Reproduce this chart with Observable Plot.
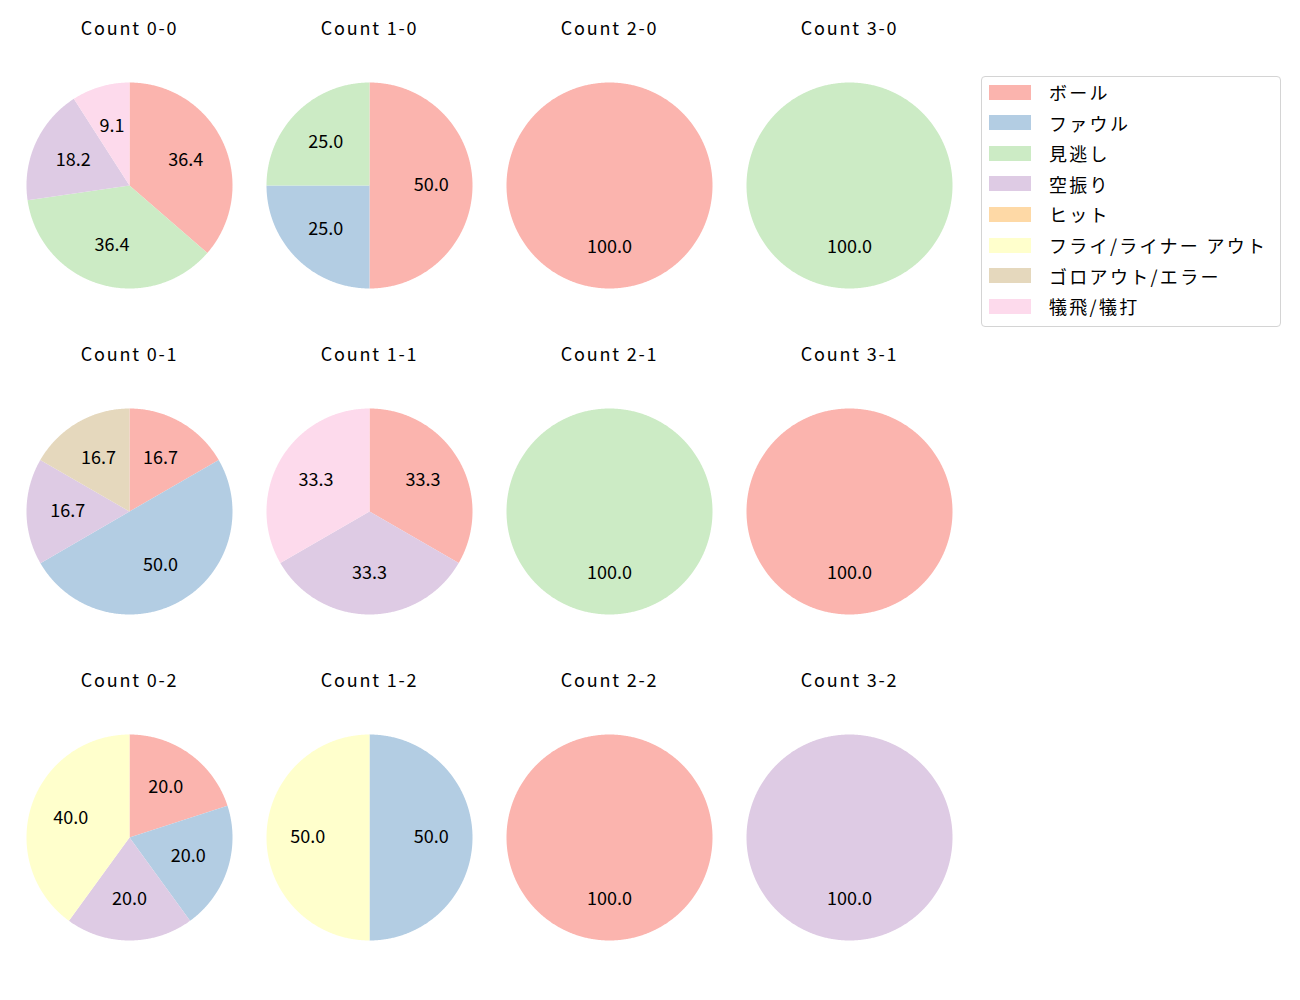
<!DOCTYPE html>
<html><head><meta charset="utf-8">
<script src="https://cdn.jsdelivr.net/npm/d3@7"></script>
<script src="https://cdn.jsdelivr.net/npm/@observablehq/plot@0.6"></script>
<style>
body{margin:0;background:#fff;font-family:"Noto Sans CJK JP","Noto Sans",sans-serif;}
#wrap{position:relative;width:1300px;height:1000px;overflow:hidden}
#legend{position:absolute;left:981px;top:76px;width:300px;height:251px;border:1px solid #d4d4d4;border-radius:4px;background:rgba(255,255,255,0.8);box-sizing:border-box}
.lrow{position:absolute;left:0;height:30px;line-height:30px;font-size:18px;letter-spacing:2.3px;color:#000;white-space:nowrap}
.lsw{position:absolute;left:7px;top:7.5px;width:42px;height:15px}
.ltx{position:absolute;left:67px;top:0}
</style></head>
<body><div id="wrap"><div id="chart"></div><div id="legend"></div></div>
<script>
// categories, colours (Pastel1) and per-count shares (%) in category order
const categories = ["ボール","ファウル","見逃し","空振り","ヒット","フライ/ライナー アウト","ゴロアウト/エラー","犠飛/犠打"];
const colors = ["#fbb4ae","#b3cde3","#ccebc5","#decbe4","#fed9a6","#ffffcc","#e5d8bd","#fddaec"];
const counts = ["0-0","1-0","2-0","3-0","0-1","1-1","2-1","3-1","0-2","1-2","2-2","3-2"];
const share00 = [36.4, 0, 36.4, 18.2, 0, 0, 0, 9.1];
const share10 = [50.0, 25.0, 25.0, 0, 0, 0, 0, 0];
const share20 = [100.0, 0, 0, 0, 0, 0, 0, 0];
const share30 = [0, 0, 100.0, 0, 0, 0, 0, 0];
const share01 = [16.7, 50.0, 0, 16.7, 0, 0, 16.7, 0];
const share11 = [33.3, 0, 0, 33.3, 0, 0, 0, 33.3];
const share21 = [0, 0, 100.0, 0, 0, 0, 0, 0];
const share31 = [100.0, 0, 0, 0, 0, 0, 0, 0];
const share02 = [20.0, 20.0, 0, 20.0, 0, 40.0, 0, 0];
const share12 = [0, 50.0, 0, 0, 0, 50.0, 0, 0];
const share22 = [100.0, 0, 0, 0, 0, 0, 0, 0];
const share32 = [0, 0, 0, 100.0, 0, 0, 0, 0];
const shares = [share00, share10, share20, share30, share01, share11, share21, share31, share02, share12, share22, share32];

const R = 103; // pie radius in px
const W = 120 / R, H = 163 / R;

const points = [], labels = [], titles = [];
counts.forEach((c, ci) => {
  const [b, s] = c.split("-").map(Number);
  titles.push({b, s, text: "Count " + c});
  const vals = shares[ci];
  const total = d3.sum(vals);
  let a = 0;
  vals.forEach((v, k) => {
    if (!v) return;
    const a0 = a, a1 = a + v / total * 2 * Math.PI; a = a1;
    const id = c + "|" + k, cat = categories[k];
    const n = Math.max(2, Math.ceil((a1 - a0) / (Math.PI / 360)));
    const full = a1 - a0 > 2 * Math.PI - 1e-6;
    if (!full) points.push({id, b, s, cat, x: 0, y: 0});
    for (let i = 0; i <= n; i++) {
      const t = a0 + (a1 - a0) * i / n;
      points.push({id, b, s, cat, x: Math.sin(t), y: Math.cos(t)});
    }
    const m = (a0 + a1) / 2;
    labels.push({b, s, x: 0.6 * Math.sin(m), y: 0.6 * Math.cos(m), text: v.toFixed(1)});
  });
});

const chart = Plot.plot({
  width: 1300, height: 1000,
  marginLeft: 9, marginRight: 331, marginTop: 22, marginBottom: 0,
  x: {domain: [-W, W], axis: null},
  y: {domain: [-H, H], axis: null},
  fx: {domain: [0, 1, 2, 3], axis: null, padding: 0, round: false},
  fy: {domain: [0, 1, 2], axis: null, padding: 0, round: false},
  color: {domain: categories, range: colors},
  style: {fontFamily: '"Noto Sans CJK JP","Noto Sans",sans-serif', background: "white", color: "black"},
  marks: [
    Plot.line(points, {x: "x", y: "y", z: "id", fx: "b", fy: "s", fill: "cat", stroke: "none", curve: "linear"}),
    Plot.text(labels, {x: "x", y: "y", fx: "b", fy: "s", text: "text", fontSize: 18, fill: "black"}),
    Plot.text(titles, {fx: "b", fy: "s", text: "text", frameAnchor: "top", lineAnchor: "middle", dy: 7, fontSize: 18, fill: "black", style: "letter-spacing:1.8px"})
  ]
});
chart.querySelectorAll("text").forEach(t => { if (/^Count/.test(t.textContent)) t.style.letterSpacing = "1.8px"; });
document.getElementById("chart").appendChild(chart);

const legend = document.getElementById("legend");
categories.forEach((c, i) => {
  const row = document.createElement("div");
  row.className = "lrow";
  row.style.top = (0 + i * 30.6) + "px";
  row.innerHTML = `<div class="lsw" style="background:${colors[i]}"></div><div class="ltx">${c}</div>`;
  legend.appendChild(row);
});
</script></body></html>
